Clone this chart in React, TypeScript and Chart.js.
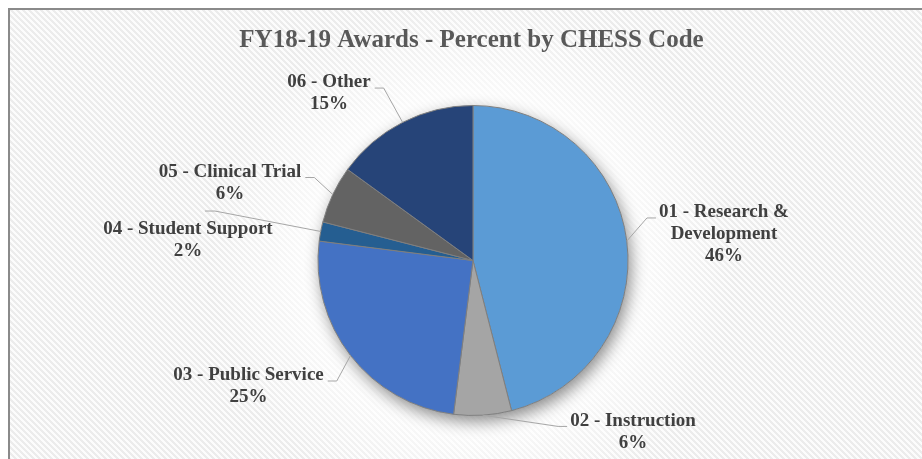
import React, { useEffect, useRef } from "react";
import { Chart, registerables } from "chart.js";

Chart.register(...registerables);

// ---- data ----
const chartTitle = "FY18-19 Awards - Percent by CHESS Code";
const categories = [
  "01 - Research & Development",
  "02 - Instruction",
  "03 - Public Service",
  "04 - Student Support",
  "05 - Clinical Trial",
  "06 - Other",
];
const percentValues = [46, 6, 25, 2, 6, 15];
const sliceColors = ["#5B9BD5", "#A5A5A5", "#4472C4", "#255E91", "#636363", "#264478"];

// ---- label layout (offset of label block centre from pie centre, in radii) ----
const labelLayout = [
  { dx: 1.619, dy: -0.168, side: "left", wrap: 140 },
  { dx: 1.032, dy: 1.106, side: "left", wrap: 0 },
  { dx: -1.448, dy: 0.813, side: "right", wrap: 0 },
  { dx: -1.839, dy: -0.132, side: "top", wrap: 0 },
  { dx: -1.568, dy: -0.5, side: "right", wrap: 0 },
  { dx: -0.929, dy: -1.077, side: "right", wrap: 0 },
];

const SERIF = '"Liberation Serif", "Times New Roman", serif';
const W = 914;
const H = 451;

function wrapText(ctx: CanvasRenderingContext2D, text: string, maxW: number): string[] {
  if (!maxW) return [text];
  const words = text.split(" ");
  const lines: string[] = [];
  let cur = "";
  for (const w of words) {
    const t = cur ? cur + " " + w : w;
    if (cur && ctx.measureText(t).width > maxW) {
      lines.push(cur);
      cur = w;
    } else cur = t;
  }
  if (cur) lines.push(cur);
  return lines;
}

const backgroundPlugin = {
  id: "bgPattern",
  beforeDraw(chart: any) {
    const { ctx, width, height } = chart;
    ctx.save();
    ctx.fillStyle = "#ffffff";
    ctx.fillRect(0, 0, width, height);
    const tile = document.createElement("canvas");
    tile.width = 6;
    tile.height = 6;
    const tctx = tile.getContext("2d")!;
    const img = tctx.createImageData(6, 6);
    for (let y = 0; y < 6; y++)
      for (let x = 0; x < 6; x++) {
        const i = (y * 6 + x) * 4;
        const on = (((x - y) % 6) + 6) % 6 < 3;
        const c = on ? 236 : 252;
        img.data[i] = c;
        img.data[i + 1] = c;
        img.data[i + 2] = c;
        img.data[i + 3] = 255;
      }
    tctx.putImageData(img, 0, 0);
    const pat = ctx.createPattern(tile, "repeat");
    if (pat) {
      ctx.fillStyle = pat;
      ctx.fillRect(0, 0, width, height);
    }
    // soft white glow around the pie
    const arc = chart.getDatasetMeta(0).data[0];
    if (arc) {
      const r = arc.outerRadius;
      const g = ctx.createRadialGradient(arc.x, arc.y, r * 0.9, arc.x, arc.y, r * 1.7);
      g.addColorStop(0, "rgba(255,255,255,0.9)");
      g.addColorStop(1, "rgba(255,255,255,0)");
      ctx.fillStyle = g;
      ctx.fillRect(0, 0, width, height);
    }
    // chart border (top & left visible)
    ctx.strokeStyle = "#8a8a8a";
    ctx.lineWidth = 2;
    ctx.strokeRect(1, 1, width + 20, height + 20);
    // title
    ctx.fillStyle = "#595959";
    ctx.font = `bold 25px ${SERIF}`;
    ctx.textAlign = "center";
    ctx.textBaseline = "middle";
    ctx.fillText(chartTitle, 463.5, 33);
    ctx.restore();
  },
  beforeDatasetsDraw(chart: any) {
    const arc = chart.getDatasetMeta(0).data[0];
    if (!arc) return;
    const { ctx } = chart;
    ctx.save();
    ctx.shadowColor = "rgba(0,0,0,0.45)";
    ctx.shadowBlur = 16;
    ctx.shadowOffsetX = 3;
    ctx.shadowOffsetY = 6;
    ctx.fillStyle = "#ffffff";
    ctx.beginPath();
    ctx.arc(arc.x, arc.y, arc.outerRadius, 0, Math.PI * 2);
    ctx.fill();
    ctx.restore();
  },
};

const labelPlugin = {
  id: "outsideLabels",
  afterDatasetsDraw(chart: any) {
    const { ctx } = chart;
    const meta = chart.getDatasetMeta(0);
    const total = percentValues.reduce((a, b) => a + b, 0);
    ctx.save();
    ctx.font = `bold 19px ${SERIF}`;
    const lh = 22;
    meta.data.forEach((arc: any, i: number) => {
      const lay = labelLayout[i];
      const r = arc.outerRadius;
      const mid = (arc.startAngle + arc.endAngle) / 2;
      const ex = arc.x + Math.cos(mid) * r;
      const ey = arc.y + Math.sin(mid) * r;
      const cx = arc.x + lay.dx * r;
      const cy = arc.y + lay.dy * r;
      const lines = wrapText(ctx, categories[i], lay.wrap);
      lines.push(Math.round((percentValues[i] / total) * 100) + "%");
      const firstY = cy - ((lines.length - 1) * lh) / 2;
      const w0 = ctx.measureText(lines[0]).width;
      let sx = 0, sy = 0, hx = 0;
      if (lay.side === "right") {
        sx = cx + w0 / 2 + 4;
        sy = firstY + 5.5;
        hx = sx + 9;
      } else if (lay.side === "left") {
        sx = cx - w0 / 2 - 3;
        sy = firstY + 5.5;
        hx = sx - 9;
      } else {
        sx = cx + 17;
        sy = firstY - 18;
        hx = sx + 10;
      }
      ctx.strokeStyle = "#a6a6a6";
      ctx.lineWidth = 1;
      ctx.beginPath();
      ctx.moveTo(sx, sy);
      ctx.lineTo(hx, sy);
      ctx.lineTo(ex, ey);
      ctx.stroke();
      ctx.fillStyle = "#404040";
      ctx.textAlign = "center";
      ctx.textBaseline = "middle";
      lines.forEach((t, k) => ctx.fillText(t, cx, firstY + k * lh));
    });
    ctx.restore();
  },
};

export default function App() {
  const ref = useRef<HTMLCanvasElement | null>(null);
  useEffect(() => {
    if (!ref.current) return;
    const chart = new Chart(ref.current, {
      type: "pie",
      data: {
        labels: categories,
        datasets: [
          {
            data: percentValues,
            backgroundColor: sliceColors,
            borderColor: "#7f7f7f",
            borderWidth: 1,
          },
        ],
      },
      options: {
        responsive: false,
        animation: false,
        events: [],
        layout: { padding: { top: 97, bottom: 43, left: 300, right: 284 } },
        plugins: {
          legend: { display: false },
          tooltip: { enabled: false },
          title: { display: false },
        },
      },
      plugins: [backgroundPlugin, labelPlugin],
    });
    return () => chart.destroy();
  }, []);
  return (
    <div style={{ position: "absolute", left: 8, top: 8, width: W, height: H }}>
      <canvas ref={ref} width={W} height={H} style={{ display: "block", width: W, height: H }} />
    </div>
  );
}
